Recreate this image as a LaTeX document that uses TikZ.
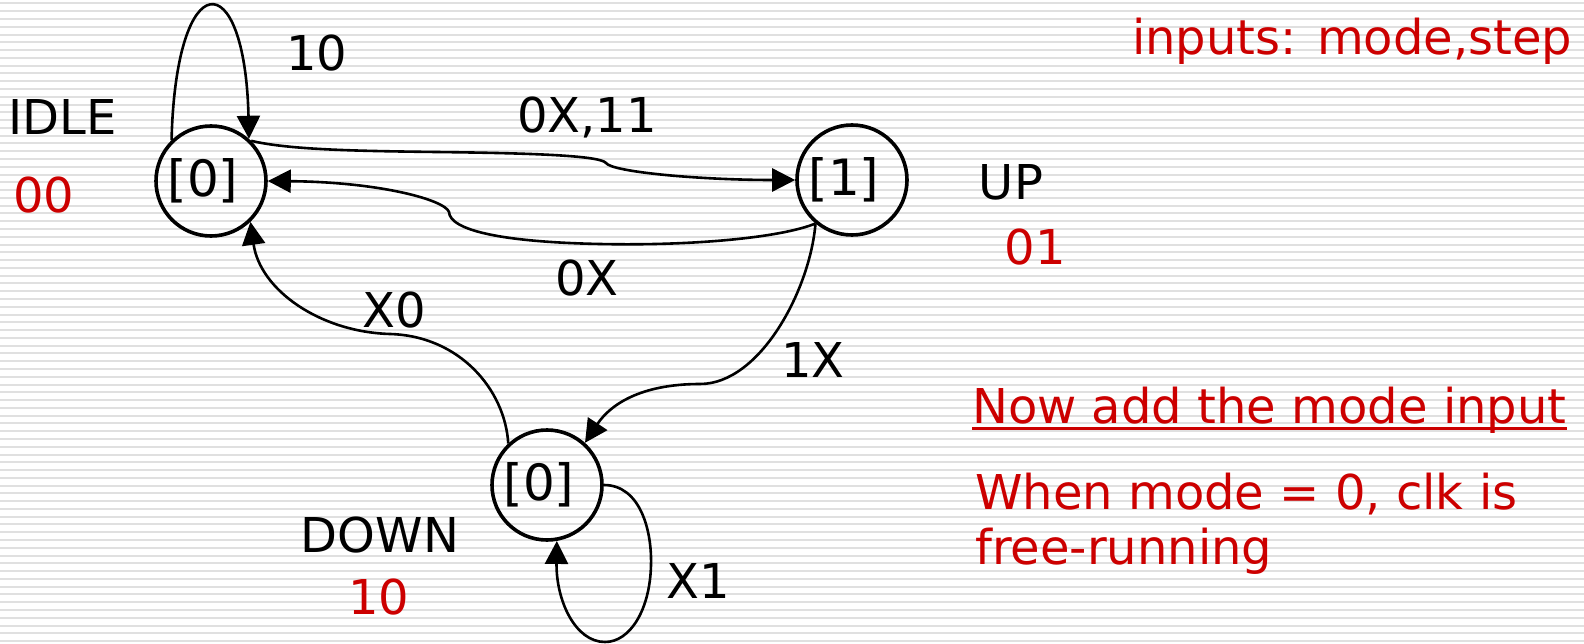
\documentclass[tikz,border=0pt]{standalone}
\usepackage{fontspec}
\setmainfont{DejaVu Sans}
\usetikzlibrary{arrows.meta}
\definecolor{redtxt}{RGB}{204,0,0}
\definecolor{stripecol}{RGB}{224,224,224}
\begin{document}
\begin{tikzpicture}[x=1pt,y=-1pt,
  state/.style={draw, circle, line width=3.6pt, minimum size=110pt, inner sep=0pt, font=\fontsize{50}{60}\selectfont},
  edge/.style={line width=2.6pt, -{Triangle[length=23pt,width=23pt]}},
  lbl/.style={anchor=base, inner sep=0pt, font=\fontsize{48}{58}\selectfont},
  rlbl/.style={lbl, text=redtxt},
  stripe/.style={stripecol, line width=2pt}
]
\fill[white] (0,0) rectangle (1584,644);
\useasboundingbox (0,0) rectangle (1584,644);
\foreach \i in {0,...,82} \draw[stripe] (0,{3.5+7.776*\i}) -- (1584,{3.5+7.776*\i});

\node[state] (idle) at (211,181) {[0]\hspace*{16pt}};
\node[state] (up) at (852,180) {[1]\hspace*{16pt}};
\node[state] (down) at (547,485) {[0]\hspace*{16pt}};

% edges
\draw[edge] (idle.134) .. controls (176,-37) and (245,-37) .. (idle.48);
\draw[edge] (idle.45) .. controls (290,150) and (360,151) .. (436,152)
  .. controls (520,153) and (600,155) .. (606,163)
  .. controls (612,172) and (700,180) .. (up.west);
\draw[edge] (up.230) .. controls (780,238) and (690,246) .. (600,244)
  .. controls (500,242) and (450,230) .. (449,212)
  .. controls (445,200) and (380,182) .. (idle.east);
\draw[edge] (up.230) .. controls (810,290) and (760,384) .. (700,384)
  .. controls (640,384) and (610,405) .. (down.48);
\draw[edge] (down.133) .. controls (505,390) and (460,336) .. (390,334)
  .. controls (320,332) and (260,290) .. (idle.314);
\draw[edge] (down.0) .. controls (640,485) and (652,530) .. (651,565)
  .. controls (650,610) and (630,642) .. (605,642)
  .. controls (575,642) and (556,600) .. (down.280);

% labels
\node[lbl] (l10) at (317,71) {10};
\node[lbl,anchor=base west] (lidle) at (8,135) {IDLE};
\node[rlbl] (l00) at (44,213) {00};
\node[lbl] (l0x11) at (587,133) {0X,11};
\node[lbl] (lup) at (1011,200) {UP};
\node[rlbl] (l01) at (1035,265) {01};
\node[lbl] (l0x) at (587,295) {0X};
\node[lbl] (lx0) at (394,327) {X0};
\node[lbl] (l1x) at (813,377) {1X};
\node[lbl] (ldown) at (380,552) {DOWN};
\node[rlbl] (l10r) at (379,614) {10};
\node[lbl] (lx1) at (698,598) {X1};

\node[rlbl, anchor=base west] (inputs) at (1132,55) {inputs: mode,step};
\node[rlbl, anchor=base west] (now) at (972,423) {Now add the mode input};
\draw[redtxt, line width=3pt] ([yshift=-5pt]now.base west) -- ([yshift=-5pt]now.base east);
\node[rlbl, anchor=base west] (when) at (975,509) {When mode = 0, clk is};
\node[rlbl, anchor=base west] (free) at (975,564) {free-running};
\end{tikzpicture}
\end{document}
